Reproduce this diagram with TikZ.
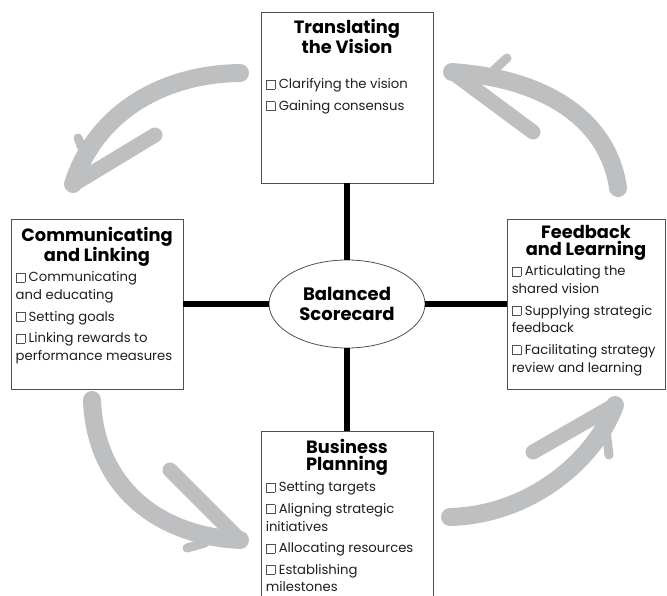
\documentclass[tikz,border=0pt]{standalone}
\usepackage{fontspec}
\setmainfont{Poppins}
\usepackage{tikz}
\usetikzlibrary{shapes,positioning}
\definecolor{arrowgray}{RGB}{190,191,193}
\definecolor{boxgray}{RGB}{80,80,80}
\definecolor{inkgray}{RGB}{30,30,30}
\newcommand{\cbox}{{\setlength{\fboxsep}{0pt}\setlength{\fboxrule}{0.5pt}\color{boxgray}\fbox{\rule{0pt}{8.5pt}\hspace{8.5pt}}}\hspace{3.5pt}}
\tikzset{
  every picture/.style={font=\normalsize, >=stealth}}

\begin{document}
\begin{tikzpicture}[x=1pt, y=-1pt,
    panel/.style={
      draw=boxgray, line width=0.9pt,
      minimum width=172pt, minimum height=170pt,
      inner sep=0pt},
    heading/.style={
      font=\fontsize{17.8}{17}\selectfont\bfseries,
      align=center, inner sep=0pt},
    items/.style={
      font=\fontsize{13.2}{17.8}\selectfont,
      align=left, inner sep=0pt, text=inkgray},
    spoke/.style={line width=6pt, black},
    sweep/.style={draw=arrowgray, line width=18pt, line cap=round},
    barb/.style={draw=arrowgray, line width=15pt, line cap=round},
    flick/.style={draw=arrowgray, line width=9pt, line cap=round}]

    \useasboundingbox (0,0) rectangle (667,596);

    % grey cycle arrows
    \draw[sweep] (240,73) .. controls (160,74) and (95,115) .. (73,184);
    \draw[barb] (74,184) -- (155,135);
    \draw[flick] (78,138) -- (86,158);

    \draw[sweep] (618,188) .. controls (610,130) and (560,80) .. (452,72);
    \draw[barb] (452,72) -- (533,132);
    \draw[flick] (494,70) -- (507,58);

    \draw[sweep] (92,400) .. controls (95,480) and (150,535) .. (240,540);
    \draw[barb] (240,540) -- (170,470);
    \draw[flick] (205,543) -- (187,548);

    \draw[sweep] (450,517) .. controls (530,515) and (595,460) .. (615,405);
    \draw[barb] (615,405) -- (533,452);
    \draw[flick] (606,430) -- (609,455);

    \node[panel, minimum height=171pt] (vision) at (347,97.5) {};
    \node[panel] (communicating) at (97,304) {};
    \node[panel, minimum width=158pt] (feedback) at (586,304) {};
    \node[panel, minimum height=200pt] (planning) at (347,531) {};

    \node[ellipse, draw=boxgray, line width=0.8pt,
          minimum width=156pt, minimum height=88pt,
          font=\fontsize{18}{19.5}\selectfont\bfseries, align=center]
          (scorecard) at (347,304) {Balanced\\Scorecard};

    \draw[spoke] (vision) -- (scorecard);
    \draw[spoke] (communicating) -- (scorecard);
    \draw[spoke] (scorecard) -- (feedback);
    \draw[spoke] (scorecard) -- (planning);

    \node[heading, below=7pt of vision.north] (visionTitle)
      {Translating\\the Vision};
    \node[items, below right=67pt and 5pt of vision.north west] (visionList)
      {\cbox Clarifying the vision\\[3.7pt]
       \cbox Gaining consensus};

    \node[heading, below=8pt of communicating.north] (communicatingTitle)
      {Communicating\\and Linking};
    \node[items, below right=53pt and 5pt of communicating.north west] (communicatingList)
      {\cbox Communicating\\
       and educating\\[3.7pt]
       \cbox Setting goals\\[3.7pt]
       \cbox Linking rewards to\\
       performance measures};

    \node[heading, below=7pt of feedback.north] (feedbackTitle)
      {Feedback\\and Learning};
    \node[items, below right=47pt and 5pt of feedback.north west] (feedbackList)
      {\cbox Articulating the\\
       shared vision\\[3.7pt]
       \cbox Supplying strategic\\
       feedback\\[3.7pt]
       \cbox Facilitating strategy\\
       review and learning};

    \node[heading, below=8pt of planning.north] (planningTitle)
      {Business\\Planning};
    \node[items, below right=51pt and 5pt of planning.north west] (planningList)
      {\cbox Setting targets\\[3.7pt]
       \cbox Aligning strategic\\
       initiatives\\[3.7pt]
       \cbox Allocating resources\\[3.7pt]
       \cbox Establishing\\
       milestones};
\end{tikzpicture}
\end{document}
